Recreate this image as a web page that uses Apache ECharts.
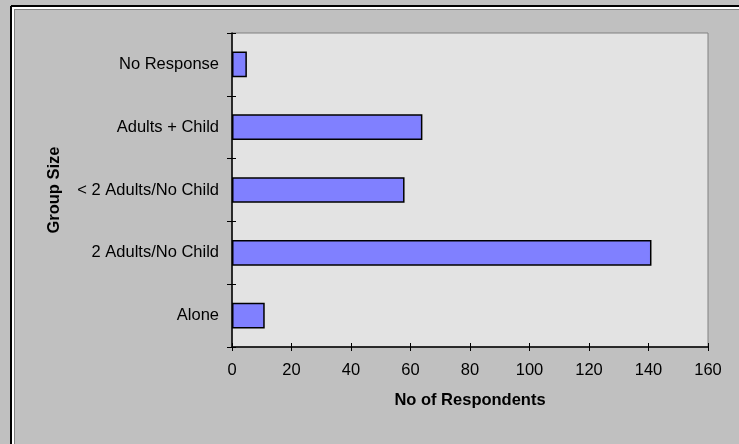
<!DOCTYPE html>
<html>
<head>
<meta charset="utf-8">
<script src="https://cdn.jsdelivr.net/npm/echarts@6/dist/echarts.min.js"></script>
<style>
  html, body { margin: 0; padding: 0; background: #C0C0C0; }
  #chart { width: 739px; height: 444px; }
</style>
</head>
<body>
<div id="chart"></div>
<script>
// group sizes, bottom to top as drawn
var categories = ['Alone', '2 Adults/No Child', '< 2 Adults/No Child', 'Adults + Child', 'No Response'];
var respondents = [11, 141, 58, 64, 5];
var xTicks = [0, 20, 40, 60, 80, 100, 120, 140, 160];

var chart = echarts.init(document.getElementById('chart'));

var font = 'Arial, "Liberation Sans", sans-serif';

var option = {
  backgroundColor: '#C0C0C0',
  animation: false,
  grid: {
    left: 232,
    right: 31,
    top: 33,
    bottom: 97,
    show: true,
    backgroundColor: '#E3E3E3',
    borderColor: '#808080',
    borderWidth: 1
  },
  xAxis: [
    {
      type: 'value',
      min: xTicks[0],
      max: xTicks[xTicks.length - 1],
      interval: 20,
      position: 'bottom',
      name: 'No of Respondents',
      nameLocation: 'middle',
      nameGap: 45,
      nameTextStyle: { fontFamily: font, fontSize: 16.5, fontWeight: 'bold', color: '#000' },
      axisLine: { show: true, lineStyle: { color: '#000', width: 1.5 } },
      axisTick: { show: true, length: 4, lineStyle: { color: '#000', width: 1 } },
      axisLabel: { margin: 15, fontFamily: font, fontSize: 16.5, color: '#000' },
      splitLine: { show: false }
    },
    {
      type: 'value',
      min: xTicks[0],
      max: xTicks[xTicks.length - 1],
      interval: 20,
      position: 'bottom',
      axisLine: { show: false },
      axisTick: { show: true, inside: true, length: 4, lineStyle: { color: '#000', width: 1 } },
      axisLabel: { show: false },
      splitLine: { show: false }
    }
  ],
  yAxis: [
    {
      type: 'category',
      data: categories,
      position: 'left',
      name: 'Group Size',
      nameLocation: 'middle',
      nameRotate: 90,
      nameGap: 169,
      nameTextStyle: { fontFamily: font, fontSize: 16.5, fontWeight: 'bold', color: '#000' },
      axisLine: { show: true, lineStyle: { color: '#000', width: 1.5 } },
      axisTick: { show: true, length: 5, lineStyle: { color: '#000', width: 1 } },
      axisLabel: { margin: 13, fontFamily: font, fontSize: 16.5, color: '#000' }
    },
    {
      type: 'category',
      data: categories,
      position: 'left',
      axisLine: { show: false },
      axisTick: { show: true, inside: true, length: 4, lineStyle: { color: '#000', width: 1 } },
      axisLabel: { show: false }
    }
  ],
  series: [
    {
      type: 'bar',
      data: respondents,
      barWidth: '41%',
      itemStyle: {
        color: '#8080FF',
        borderColor: '#000',
        borderWidth: 1.5
      }
    }
  ],
  graphic: [
    // window-style frame on the top and left edges
    { type: 'line', shape: { x1: 11, y1: 6, x2: 739, y2: 6 }, style: { stroke: '#000', lineWidth: 2 } },
    { type: 'line', shape: { x1: 11, y1: 6, x2: 11, y2: 444 }, style: { stroke: '#000', lineWidth: 2 } },
    { type: 'line', shape: { x1: 12, y1: 8, x2: 739, y2: 8 }, style: { stroke: '#FFFFFF', lineWidth: 2 } },
    { type: 'line', shape: { x1: 13, y1: 8, x2: 13, y2: 444 }, style: { stroke: '#FFFFFF', lineWidth: 2 } },
    { type: 'line', shape: { x1: 14, y1: 9.5, x2: 739, y2: 9.5 }, style: { stroke: '#808080', lineWidth: 1 } },
    { type: 'line', shape: { x1: 14.5, y1: 9, x2: 14.5, y2: 444 }, style: { stroke: '#808080', lineWidth: 1 } }
  ]
};

chart.setOption(option);
</script>
</body>
</html>
